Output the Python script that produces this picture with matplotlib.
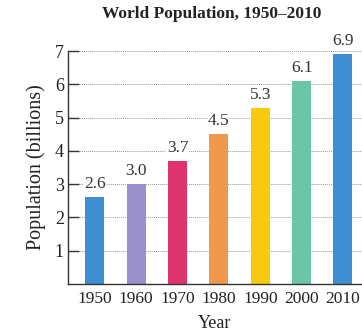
import matplotlib.pyplot as plt

years = ['1950', '1960', '1970', '1980', '1990', '2000', '2010']
population = [2.6, 3.0, 3.7, 4.5, 5.3, 6.1, 6.9]
bar_colors = ['#3d8fd2', '#9a90cc', '#e0346c', '#f1984f', '#f9c90f', '#6cc4a9', '#3d8fd2']
y_ticks = [1, 2, 3, 4, 5, 6, 7]

plt.rcParams['font.family'] = ['Liberation Serif', 'DejaVu Serif']

fig = plt.figure(figsize=(3.62, 3.31), dpi=100)
ax = fig.add_axes([68 / 362, 47 / 331, 1 - 68 / 362, 233 / 331])

x = range(len(years))
ax.bar(x, population, width=0.46, color=bar_colors, zorder=2)

for xi, val in zip(x, population):
    ax.text(xi, val + 0.15, f'{val:.1f}', ha='center', va='bottom',
            fontsize=12.5, color='#333333', zorder=3,
            bbox=dict(facecolor='white', edgecolor='none', pad=0.3))

ax.set_xlim(-0.65, 6.46)
ax.set_ylim(0, 7)
ax.set_yticks(y_ticks)
ax.set_xticks(list(x))
ax.set_xticklabels(years)
ax.yaxis.grid(True, linestyle=(0, (1, 1)), color='#999999', linewidth=0.7, zorder=0)
ax.set_axisbelow(True)

ax.tick_params(axis='y', direction='in', length=8, width=1, color='#333333',
               labelsize=13, pad=3, labelcolor='#222222')
ax.tick_params(axis='x', length=0, labelsize=12.5, pad=5, labelcolor='#222222')

for side in ['top', 'right']:
    ax.spines[side].set_visible(False)
for side in ['left', 'bottom']:
    ax.spines[side].set_color('#333333')
    ax.spines[side].set_linewidth(1.0)

ax.set_ylabel('Population (billions)', fontsize=14.5, color='#222222', labelpad=6)
ax.set_xlabel('Year', fontsize=13, color='#222222', labelpad=6)
fig.text(212 / 362, 1 - 14 / 331, 'World Population, 1950\u20132010',
         ha='center', va='center', fontsize=12.5, fontweight='bold', color='#222222')

fig.savefig('out.png', dpi=100)
